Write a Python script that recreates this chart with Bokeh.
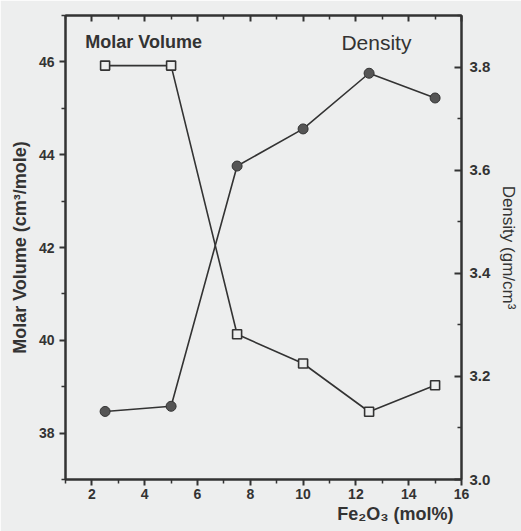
from bokeh.plotting import figure
from bokeh.models import Range1d, LinearAxis, FixedTicker, Label, Title, ColumnDataSource
from bokeh.embed import file_html
from bokeh.resources import INLINE

# Data
fe2o3 = [2.5, 5, 7.5, 10, 12.5, 15]
molar_volume = [45.92, 45.92, 40.13, 39.50, 38.46, 39.03]
density = [3.132, 3.142, 3.608, 3.680, 3.788, 3.740]

x_ticks = [2, 4, 6, 8, 10, 12, 14, 16]
x_minor = [1, 3, 5, 7, 9, 11, 13, 15]
mv_ticks = [38, 40, 42, 44, 46]
mv_minor = [37, 39, 41, 43, 45, 47]
d_ticks = [3.0, 3.2, 3.4, 3.6, 3.8]
d_minor = [3.1, 3.3, 3.5, 3.7, 3.9]

BG = "#edeeee"
INK = "#333333"
FONT = "Liberation Sans"

src = ColumnDataSource(dict(x=fe2o3, mv=molar_volume, d=density))

p = figure(width=521, height=531, output_backend="svg", toolbar_location=None,
           x_range=Range1d(1, 16), y_range=Range1d(37, 47),
           min_border_left=65, min_border_right=59, min_border_top=15,
           min_border_bottom=52, x_axis_location=None, y_axis_location=None)
p.background_fill_color = BG
p.border_fill_color = BG
p.outline_line_color = INK
p.outline_line_width = 2
p.xgrid.visible = False
p.ygrid.visible = False
p.extra_y_ranges = {"dens": Range1d(3.0, 3.9)}


def style(ax, tin, tout, minin, minout):
    ax.axis_line_color = INK
    ax.axis_line_width = 2
    ax.major_tick_line_color = INK
    ax.minor_tick_line_color = INK
    ax.major_tick_line_width = 2
    ax.minor_tick_line_width = 1.5
    ax.major_tick_in = tin
    ax.major_tick_out = tout
    ax.minor_tick_in = minin
    ax.minor_tick_out = minout
    ax.major_label_text_font = FONT
    ax.major_label_text_font_style = "bold"
    ax.major_label_text_font_size = "14px"
    ax.major_label_text_color = INK
    ax.axis_label_text_font = FONT
    ax.axis_label_text_font_style = "bold"
    ax.axis_label_text_font_size = "18px"
    ax.axis_label_text_color = INK


bottom = LinearAxis(ticker=FixedTicker(ticks=x_ticks, minor_ticks=x_minor))
style(bottom, 0, 6, 0, 4)
bottom.major_label_standoff = 3
p.add_layout(bottom, "below")

# x-axis title as a right-aligned title below the axis
xtitle = Title(text="Fe\u2082O\u2083 (mol%)", align="right", offset=8, standoff=0,
               text_font=FONT, text_font_style="bold", text_font_size="18px",
               text_color=INK)
p.add_layout(xtitle, "below")

top = LinearAxis(ticker=FixedTicker(ticks=x_ticks, minor_ticks=x_minor))
style(top, 6, 0, 4, 0)
top.major_label_overrides = {t: "" for t in x_ticks}
top.major_label_standoff = 0
p.add_layout(top, "above")

left = LinearAxis(ticker=FixedTicker(ticks=mv_ticks, minor_ticks=mv_minor),
                  axis_label="Molar Volume (cm\u00b3/mole)")
style(left, 0, 6, 0, 4)
left.major_label_standoff = 5
left.axis_label_standoff = 6
p.add_layout(left, "left")

right = LinearAxis(y_range_name="dens",
                   ticker=FixedTicker(ticks=d_ticks, minor_ticks=d_minor),
                   axis_label="Density (gm/cm\u00b3")
style(right, 7, 0, 4, 0)
right.major_label_standoff = 8
right.axis_label_standoff = 6
right.major_label_text_font_size = "15px"
right.axis_label_text_font_style = "normal"
right.axis_label_text_font_size = "17px"
right.major_label_overrides = {3.0: "3.0", 3.2: "3.2", 3.4: "3.4", 3.6: "3.6", 3.8: "3.8"}
p.add_layout(right, "right")

# Molar volume: open squares
p.line("x", "mv", source=src, line_color=INK, line_width=1.6)
p.scatter("x", "mv", source=src, marker="square", size=9,
          fill_color=BG, line_color=INK, line_width=1.6)

# Density: filled circles
p.line("x", "d", source=src, y_range_name="dens", line_color=INK, line_width=1.6)
p.scatter("x", "d", source=src, y_range_name="dens", marker="circle", size=10,
          fill_color="#555555", line_color=INK, line_width=1)

p.add_layout(Label(x=1.75, y=46.42, text="Molar Volume", text_font=FONT,
                   text_font_style="bold", text_font_size="18px", text_color=INK,
                   text_baseline="middle", text_align="left"))
p.add_layout(Label(x=11.45, y=46.42, text="Density", text_font=FONT,
                   text_font_style="normal", text_font_size="21px", text_color=INK,
                   text_baseline="middle", text_align="left"))

open("out.html", "w").write(file_html(p, INLINE))
